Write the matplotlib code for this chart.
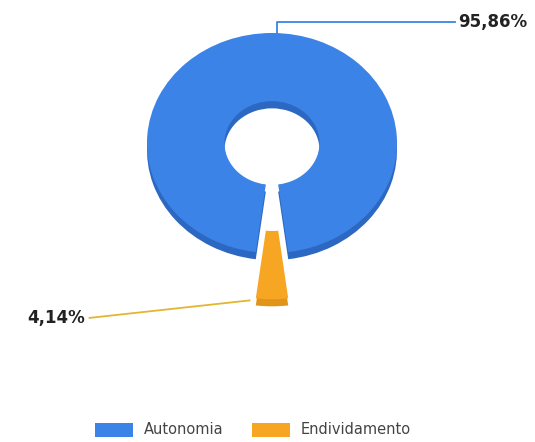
import numpy as np
import matplotlib.pyplot as plt
from matplotlib.patches import Patch

labels = ["Autonomia", "Endividamento"]
values = [95.86, 4.14]
value_text = ["95,86%", "4,14%"]

top_colors = ["#3b83e6", "#f6a623"]
side_colors = ["#2c68c2", "#e0951a"]

W, H = 535, 442
cx, cy = 272, 143      # donut centre in pixels
rx, ry = 125, 110      # ellipse radii in pixels
hole = 0.38
explode = [0, 0.42]
depth = 0.065

fig = plt.figure(figsize=(W / 100, H / 100), dpi=100)
ax = fig.add_axes([0, 0, 1, 1])

# start so that the small slice sits centred at the bottom
start = 270 - values[1] / sum(values) * 360 / 2
start = start - values[0] / sum(values) * 360

# side (depth) layer, then top face
ax.pie(values, colors=side_colors, startangle=start, explode=explode,
       center=(0, -depth), radius=1,
       wedgeprops=dict(width=1 - hole, linewidth=0))
wedges, _ = ax.pie(values, colors=top_colors, startangle=start, explode=explode,
                   radius=1, wedgeprops=dict(width=1 - hole, linewidth=0))

ax.set_aspect("auto")
ax.set_xlim((0 - cx) / rx, (W - cx) / rx)
ax.set_ylim((cy - H) / ry, cy / ry)
ax.axis("off")

# leader line for the big slice (top)
ax.plot([0.04, 0.04, 1.46], [1.0, 1.1, 1.1], color="#3b83e6", lw=1.3)
ax.text(1.49, 1.1, value_text[0], ha="left", va="center",
        fontsize=12, fontweight="bold", color="#222222")

# leader line for the small slice (exploded, bottom)
ang = np.deg2rad(wedges[1].theta1)
px = np.cos(ang) - 0.05
py = np.sin(ang) - explode[1] - depth * 0.3
ax.plot([px, -1.46], [py, -1.59], color="#e3b531", lw=1.3)
ax.text(-1.5, -1.59, value_text[1], ha="right", va="center",
        fontsize=12, fontweight="bold", color="#222222")

handles = [Patch(facecolor=c, edgecolor="none") for c in top_colors]
fig.legend(handles, labels, loc="center", bbox_to_anchor=(253 / W, 1 - 430 / H),
           ncol=2, frameon=False, fontsize=10.5, labelcolor="#444444",
           handlelength=2.6, handleheight=1.1, columnspacing=2.0, handletextpad=0.7)

fig.savefig("out.png", dpi=100, facecolor="white")
